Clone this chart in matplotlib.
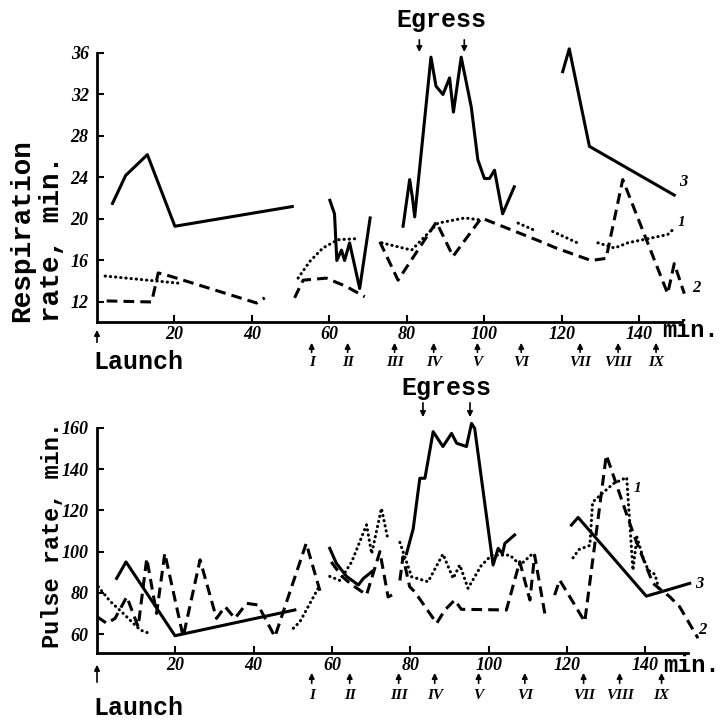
#!/usr/bin/env python3
# -*- coding: utf-8 -*-
"""
Respiration and pulse rate during the flight (two panels, scanned-figure style)
"""

import numpy as np
import matplotlib
matplotlib.use('Agg')
import matplotlib.pyplot as plt

plt.rcParams['font.family'] = ['Liberation Serif', 'DejaVu Serif']

nan = np.nan

# ---- respiration rate, upper panel (nan = gap in the record) ----
resp_x_1 = [2.1, 21.4, nan, 51.9, 54.9, 58.3, 62.2, 66.9, nan,
            73.5, 81.2, 88.0, 94.9, 99.2, nan, 108.7, 113.0, nan,
            117.6, 124.0, nan, 129.3, 133.6, 137.0, 142.2, 147.3, 149.0]
resp_y_1 = [14.5, 13.8, nan, 14.3, 15.9, 17.2, 18.0, 18.1, nan,
            17.7, 17.0, 19.6, 20.1, 19.9, nan, 19.6, 18.9, nan,
            18.8, 17.7, nan, 17.7, 17.2, 17.7, 18.1, 18.5, 19.1]

resp_x_2 = [2.5, 14.1, 15.8, 18.8, 41.2, 43.3, nan,
            51.0, 53.2, 59.2, 64.3, 69.1, nan,
            73.0, 77.7, 87.6, 91.9, 99.2, 114.0, 118.5, 127.5, 131.4,
            135.7, 147.3, 149.0, 151.6]
resp_y_2 = [12.1, 12.0, 14.8, 14.5, 11.9, 12.4, nan,
            12.4, 14.1, 14.3, 13.5, 12.5, nan,
            17.8, 14.1, 19.7, 16.4, 20.1, 17.9, 17.2, 16.0, 16.2,
            23.8, 12.8, 15.7, 12.8]

resp_x_3 = [4.0, 7.4, 13.0, 20.1, 50.4, nan,
            60.1, 61.3, 61.9, 63.1, 63.9, 65.2, 67.8, 70.5, nan,
            79.0, 80.7, 81.4, 82.0, 86.2, 87.5, 89.3, 91.0, 92.0, 94.0,
            96.6, 98.3, 100.0, 101.3, 102.6, 104.7, 107.7, nan,
            120.2, 121.9, 127.1, 149.0]
resp_y_3 = [21.5, 24.2, 26.2, 19.3, 21.2, nan,
            21.8, 20.5, 16.0, 17.0, 16.0, 17.7, 13.3, 20.1, nan,
            19.3, 23.8, 22.1, 20.2, 35.6, 32.8, 32.0, 33.6, 30.3, 35.6,
            30.8, 25.7, 23.9, 23.9, 24.7, 20.5, 23.1, nan,
            34.2, 36.4, 27.0, 22.3]

# ---- pulse rate, lower panel ----
pulse_x_1 = [0.3, 3.3, 6.7, 11.0, 13.1, nan,
             50.1, 51.8, 56.9, nan,
             59.4, 62.0, 65.0, 68.8, 70.1, 72.6, 74.3, nan,
             77.3, 80.3, 84.5, 88.3, 90.9, 92.6, 94.7, 98.0, 100.7,
             105.4, 108.0, 111.3, nan,
             121.5, 123.0, 125.8, 126.5, 128.8, 131.8, 135.2, 136.8,
             137.8, 139.4, 140.7, 142.4, 143.7]
pulse_y_1 = [83, 76, 70, 62, 60.5, nan,
             62.8, 66, 83.8, nan,
             88, 86, 95, 113, 99, 121, 105.6, nan,
             104.5, 87.8, 85.4, 98.8, 87, 93.5, 82.2, 93, 98.3,
             98.3, 93.5, 99.2, nan,
             97, 101, 103, 124, 128, 133, 136, 91,
             107, 97, 91, 89, 80]

pulse_x_2 = [0.0, 2.5, 4.6, 7.6, 10.5, 12.7, 15.2, 17.3, 22.0, 26.3,
             30.5, 32.7, 35.2, 38.2, 41.1, 45.4, 53.4, 56.9, nan,
             59.8, 62.5, 65.0, 68.8, 72.2, 74.3, 75.3, nan,
             77.3, 78.1, 79.8, 81.1, 86.7, 88.8, 91.3, 93.0, 104.5,
             107.9, 110.5, 111.7, 114.3, nan,
             116.8, 118.1, 124.5, 130.0, 135.1, 137.2, 141.9, 146.2,
             148.7, 153.4]
pulse_y_2 = [68.4, 65.2, 67.6, 78.1, 63.5, 96.7, 70.0, 99.2, 58.7, 96.0,
             67.6, 73.3, 67.6, 74.9, 74.1, 58.7, 104, 81, nan,
             95, 88, 84, 79, 100, 78, 79, nan,
             86, 97.5, 83, 80.5, 65.2, 71.7, 76.5, 72, 71.7,
             95.1, 76.5, 98.3, 70, nan,
             78.9, 86.2, 66, 146.9, 118.6, 107.2, 84.6, 78.1,
             73.3, 58]

pulse_x_3 = [5.0, 7.4, 19.9, 50.5, nan,
             59.4, 61.1, 63.7, 66.7, 68.0, 70.3, nan,
             79.0, 80.7, 82.4, 83.7, 85.8, 88.3, 90.5, 91.8, 94.3, 95.6,
             96.4, 101.1, 102.4, 103.5, 104.1, 106.6, nan,
             121.1, 122.8, 140.2, 144.0, 151.3]
pulse_y_3 = [87, 95, 59.2, 71.7, nan,
             101.6, 94.3, 88, 83.8, 87, 90.5, nan,
             99, 111, 135.6, 135.6, 158.2, 151, 157.4, 152.6, 151, 162.2,
             159.8, 93.5, 101.6, 99, 104, 108.1, nan,
             112.9, 116.6, 78.4, 80.5, 84.6]

# event markers (minutes)
roman_labels = ['I', 'II', 'III', 'IV', 'V', 'VI', 'VII', 'VIII', 'IX']
roman_top_x = [55.4, 64.7, 76.8, 86.9, 98.2, 109.5, 124.7, 134.5, 144.3]
roman_bottom_x = [54.8, 64.5, 77.0, 86.2, 97.4, 109.2, 124.2, 133.4, 144.1]
egress_top_x = [83.2, 94.8]
egress_bottom_x = [83.2, 95.2]

x_ticks = [20, 40, 60, 80, 100, 120, 140]
resp_ticks = [12, 16, 20, 24, 28, 32, 36]
pulse_ticks = [60, 80, 100, 120, 140, 160]

MONO = ['Liberation Mono', 'DejaVu Sans Mono']
LW = 2.2


def style_axes(ax, yticks):
    for side in ['top', 'right']:
        ax.spines[side].set_visible(False)
    for side in ['left', 'bottom']:
        ax.spines[side].set_linewidth(2.0)
    ax.set_xticks(x_ticks)
    ax.set_yticks(yticks)
    ax.tick_params(direction='in', length=5, width=1.5, labelsize=13)
    ax.tick_params(axis='x', pad=3)
    ax.tick_params(axis='y', pad=6)
    for lbl in ax.get_xticklabels() + ax.get_yticklabels():
        lbl.set_style('italic')
        lbl.set_fontweight('bold')


def draw_series(ax, xs, ys):
    x1, x2, x3 = xs
    y1, y2, y3 = ys
    ax.plot(x1, y1, color='k', lw=LW, linestyle=(0, (0.1, 1.6)),
            dash_capstyle='round', clip_on=False)
    ax.plot(x2, y2, color='k', lw=LW, linestyle=(0, (3.5, 2.0)), clip_on=False)
    ax.plot(x3, y3, color='k', lw=LW, linestyle='-', clip_on=False)


def mark_events(ax, roman_x, egress_x, arrow_top, arrow_bot, num_y,
                egress_y, egress_arrow, launch_arrow, launch_y):
    tr = ax.get_xaxis_transform()
    arrow = dict(arrowstyle='-|>', color='k', lw=1.2, mutation_scale=8)
    for xm, lab in zip(roman_x, roman_labels):
        ax.annotate('', xy=(xm, arrow_top), xytext=(xm, arrow_bot),
                    xycoords=tr, textcoords=tr, arrowprops=arrow,
                    annotation_clip=False)
        ax.text(xm, num_y, lab, transform=tr, ha='center', va='center',
                fontsize=11, style='italic', fontweight='bold')
    # Egress
    for xm in egress_x:
        ax.annotate('', xy=(xm, egress_arrow[1]), xytext=(xm, egress_arrow[0]),
                    xycoords=tr, textcoords=tr, arrowprops=arrow,
                    annotation_clip=False)
    ax.text(np.mean(egress_x), egress_y, 'Egress', transform=tr, ha='center',
            va='center', fontsize=18, fontweight='bold', family=MONO)
    # Launch
    ax.annotate('', xy=(0, launch_arrow[0]), xytext=(0, launch_arrow[1]),
                xycoords=tr, textcoords=tr, arrowprops=arrow,
                annotation_clip=False)
    ax.text(10.6, launch_y, 'Launch', transform=tr, ha='center', va='center',
            fontsize=18, fontweight='bold', family=MONO)


fig = plt.figure(figsize=(7.24, 7.21), dpi=100)

# 上: 呼吸频率
ax1 = fig.add_axes([0.134, 0.5534, 0.808, 0.3731])
draw_series(ax1, [resp_x_1, resp_x_2, resp_x_3], [resp_y_1, resp_y_2, resp_y_3])
ax1.set_xlim(0, 151)
ax1.set_ylim(10.07, 36)
style_axes(ax1, resp_ticks)
mark_events(ax1, roman_top_x, egress_top_x, -0.067, -0.123, -0.152,
            1.123, (1.059, 0.993), (-0.019, -0.086), -0.149)
ax1.text(0.966, -0.03, 'min.', transform=ax1.transAxes, ha='left',
         va='center', fontsize=17, fontweight='bold', family=MONO)
ax1.text(150.2, 23.2, '3', fontsize=12, style='italic', fontweight='bold')
ax1.text(153.6, 13.0, '2', fontsize=12, style='italic', fontweight='bold')
ax1.text(149.8, 19.3, '1', fontsize=11, style='italic', fontweight='bold')

# 下: 脉搏
ax2 = fig.add_axes([0.134, 0.0943, 0.816, 0.3121])
draw_series(ax2, [pulse_x_1, pulse_x_2, pulse_x_3], [pulse_y_1, pulse_y_2, pulse_y_3])
ax2.set_xlim(0, 150.8)
ax2.set_ylim(50.8, 160)
style_axes(ax2, pulse_ticks)
mark_events(ax2, roman_bottom_x, egress_bottom_x, -0.076, -0.147, -0.19,
            1.178, (1.124, 1.036), (-0.04, -0.142), -0.244)
ax2.text(0.959, -0.056, 'min.', transform=ax2.transAxes, ha='left',
         va='center', fontsize=17, fontweight='bold', family=MONO)
ax2.text(152.6, 82.5, '3', fontsize=12, style='italic', fontweight='bold')
ax2.text(153.4, 60.0, '2', fontsize=12, style='italic', fontweight='bold')
ax2.text(137.0, 129.0, '1', fontsize=11, style='italic', fontweight='bold')

# y轴标题
fig.text(0.030, 0.553, 'Respiration', rotation=90, ha='center', va='bottom',
         fontsize=20, fontweight='bold', family=MONO)
fig.text(0.072, 0.553, 'rate, min.', rotation=90, ha='center', va='bottom',
         fontsize=20, fontweight='bold', family=MONO)
fig.text(0.072, 0.101, 'Pulse rate, min.', rotation=90, ha='center',
         va='bottom', fontsize=17, fontweight='bold', family=MONO)

fig.savefig('out.png', dpi=100)
plt.close(fig)
